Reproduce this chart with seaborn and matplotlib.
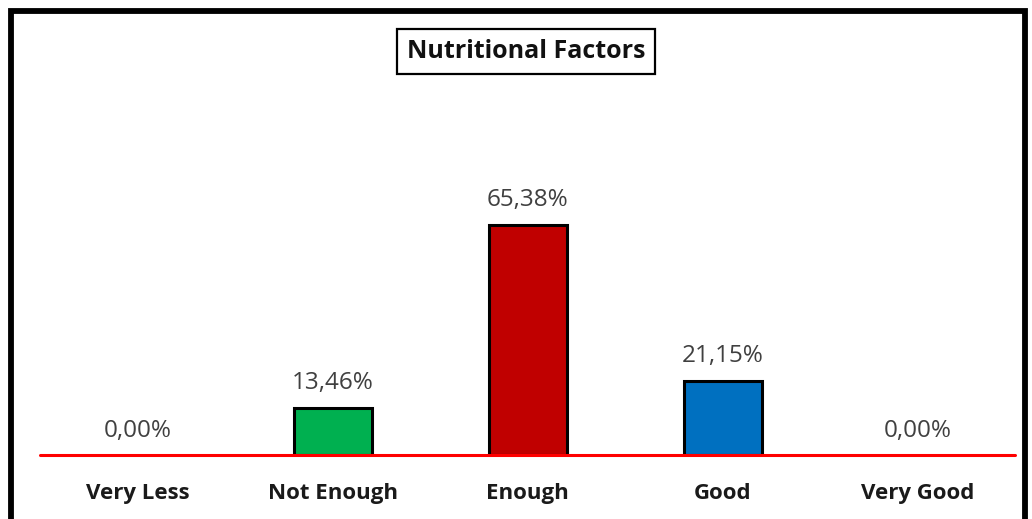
import matplotlib
matplotlib.use("Agg")
import matplotlib.pyplot as plt
from matplotlib.patches import Rectangle
import seaborn as sns
import pandas as pd

categories = ["Very Less", "Not Enough", "Enough", "Good", "Very Good"]
percentages = [0.00, 13.46, 65.38, 21.15, 0.00]
bar_colors = ["#7F7F7F", "#00B050", "#C00000", "#0070C0", "#7F7F7F"]
title_text = "Nutritional Factors"

sns.set_theme(style="white")
plt.rcParams["font.family"] = ["Open Sans", "DejaVu Sans"]

W, H = 1032, 519
fig = plt.figure(figsize=(W / 100, H / 100), dpi=100)
ax = fig.add_axes([40 / W, (H - 455) / H, 975 / W, (455 - 103) / H])

df = pd.DataFrame({"category": categories, "value": percentages})
sns.barplot(data=df, x="category", y="value", hue="category",
            palette=bar_colors, order=categories, hue_order=categories,
            width=0.4, saturation=1, legend=False, ax=ax,
            edgecolor="black", linewidth=2.2)

for patch, v in zip(ax.patches, percentages):
    if v == 0:
        patch.set_linewidth(0)
    label = f"{v:.2f}".replace(".", ",") + "%"
    x = patch.get_x() + patch.get_width() / 2
    ax.annotate(label, (x, v), xytext=(0, 9), textcoords="offset points",
                ha="center", va="bottom", fontsize=17.5, color="#404040")

ax.set_xlim(-0.5, 4.5)
ax.set_ylim(0, 100)
ax.axhline(0, color="#FF0000", linewidth=2.2, zorder=10, clip_on=False)

for s in ax.spines.values():
    s.set_visible(False)
ax.set_yticks([])
ax.set_xlabel("")
ax.set_ylabel("")
ax.tick_params(axis="x", length=0, pad=20)
for lbl in ax.get_xticklabels():
    lbl.set_fontweight("bold")
    lbl.set_fontsize(16)
    lbl.set_color("#1a1a1a")

fig.text(526 / W, (H - 51) / H, title_text, ha="center", va="center",
         fontsize=18, fontweight="bold", color="#111111",
         bbox=dict(boxstyle="square,pad=0.4", facecolor="white",
                   edgecolor="black", linewidth=1.6))

fig.patches.append(Rectangle((11 / W, -0.05), (1025 - 11) / W, 1.05 - 10.5 / H,
                             transform=fig.transFigure, fill=False,
                             edgecolor="black", linewidth=4.2, zorder=20))

fig.savefig("out.png", dpi=100)
